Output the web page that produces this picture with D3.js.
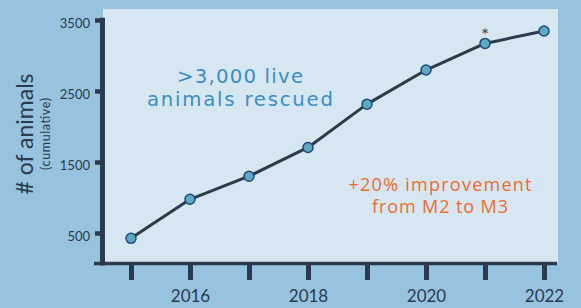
<!DOCTYPE html>
<html><head><meta charset="utf-8">
<script src="https://cdn.jsdelivr.net/npm/d3@7"></script>
<style>
html,body{margin:0;padding:0;background:#97c3df;}
svg{display:block;font-family:Lato,"Open Sans",sans-serif;}
</style></head>
<body>
<svg id="chart" width="581" height="308"></svg>
<script>
const years = [2015, 2016, 2017, 2018, 2019, 2020, 2021, 2022];
const animals = [425, 975, 1300, 1705, 2315, 2795, 3170, 3345];
const yTicks = [500, 1500, 2500, 3500];
const xTickLabels = [2016, 2018, 2020, 2022];
const starredYear = 2021;
const annoBlue = [">3,000 live", "animals rescued"];
const annoOrange = ["+20% improvement", "from M2 to M3"];

const svg = d3.select("#chart");
const dark = "#2c3a4d";

const x = d3.scaleLinear().domain([2015, 2022]).range([131, 544]);
const y = d3.scaleLinear().domain([500, 3500]).range([233, 20]);

// background
svg.append("rect").attr("width", 581).attr("height", 308).attr("fill", "#97c3df");
// panel
svg.append("rect").attr("x", 103).attr("y", 9).attr("width", 455).attr("height", 254).attr("fill", "#d6e7f2");

// y axis
const yAxis = svg.append("g").attr("transform", "translate(100,0)")
  .call(d3.axisLeft(y).tickValues(yTicks).tickSize(5).tickFormat(d3.format("d")));
yAxis.select(".domain").remove();
yAxis.selectAll(".tick line").attr("stroke", dark).attr("stroke-width", 4.5);
yAxis.selectAll(".tick text").attr("fill", dark).attr("font-size", 13)
  .attr("font-family", "Lato").attr("x", -10).attr("dy", "0.55em");
svg.append("line").attr("x1", 102.5).attr("x2", 102.5)
  .attr("y1", y(3530)).attr("y2", 265.5).attr("stroke", dark).attr("stroke-width", 5);

// x axis
const xAxis = svg.append("g").attr("transform", "translate(0,265)")
  .call(d3.axisBottom(x).tickValues(years).tickSize(15).tickFormat(d => xTickLabels.includes(d) ? d : ""));
xAxis.select(".domain").remove();
xAxis.selectAll(".tick line").attr("stroke", dark).attr("stroke-width", 5);
xAxis.selectAll(".tick text").attr("fill", dark).attr("font-size", 17)
  .attr("font-family", "Lato").attr("y", 37).attr("dy", 0);
svg.append("line").attr("x1", 94).attr("x2", 557).attr("y1", 263.5).attr("y2", 263.5)
  .attr("stroke", dark).attr("stroke-width", 3.6);

// axis titles
svg.append("text").attr("transform", "translate(33,134) rotate(-90)")
  .attr("text-anchor", "middle").attr("fill", dark).attr("font-size", 23)
  .text("# of animals");
svg.append("text").attr("transform", "translate(50,134) rotate(-90)")
  .attr("text-anchor", "middle").attr("fill", dark).attr("font-size", 12.5)
  .attr("textLength", 72).attr("lengthAdjust", "spacing")
  .text("(cumulative)");

// line
const data = years.map((yr, i) => ({year: yr, value: animals[i]}));
svg.append("path").datum(data)
  .attr("d", d3.line().x(d => x(d.year)).y(d => y(d.value)))
  .attr("fill", "none").attr("stroke", dark).attr("stroke-width", 3).attr("stroke-linejoin", "round");
svg.selectAll("circle.pt").data(data).join("circle").attr("class", "pt")
  .attr("cx", d => x(d.year)).attr("cy", d => y(d.value)).attr("r", 5)
  .attr("fill", "#5ea8c6").attr("stroke", "#1e4b7a").attr("stroke-width", 1.5);

// asterisk
const sd = data.find(d => d.year === starredYear);
svg.append("text").attr("x", x(sd.year)).attr("y", y(sd.value) - 1)
  .attr("text-anchor", "middle").attr("fill", "#3a4a5c").attr("font-size", 19).text("*");

// annotations (one text element per block, lines as tspans)
function block(lines, cx, y0, lh, size, color, lens, family) {
  const t = svg.append("text").attr("text-anchor", "middle").attr("fill", color)
    .attr("font-family", family).attr("font-size", size);
  lines.forEach((s, i) => {
    t.append("tspan").attr("x", cx).attr("y", y0 + i * lh)
      .attr("textLength", lens[i]).attr("lengthAdjust", "spacing").text(s);
  });
}
block(annoBlue, 240, 82.5, 23, 19.7, "#3a8dc6", [126, 186], "'DejaVu Sans', sans-serif");
block(annoOrange, 440, 190.5, 22.5, 18, "#f26b2d", [183, 136], "'Open Sans', Lato, sans-serif");
</script>
</body></html>
